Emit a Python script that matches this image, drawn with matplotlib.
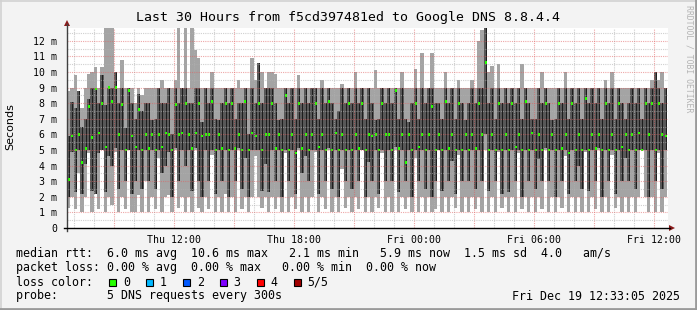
#!/usr/bin/env python

import matplotlib
matplotlib.use('Agg')

import matplotlib.pyplot as plt
from   matplotlib.patches import Rectangle, Polygon
from   matplotlib.lines   import Line2D
import numpy             as np

W, H = 697, 310

# ------------------------------------------------------------------------------
# one sample every 10 minutes, 30 hours, values in ms
# (hours since Thu 00:00 of the first sample start)
t_start = 6.65
step    = 1.0 / 6

rtt_min = [1.3, 2.0, 1.2, 3.5, 1.0, 2.0, 4.8, 1.0, 2.3, 1.2, 5.0, 1.0,
           2.0, 1.5, 4.9, 1.0, 2.0, 1.2, 5.0, 1.0, 1.0, 2.1, 1.0, 3.0,
           1.0, 2.0, 1.2, 4.5, 1.0, 2.0, 2.1, 1.0, 5.0, 1.3, 2.0, 1.0,
           2.0, 1.0, 5.0, 1.3, 1.0, 2.0, 1.2, 4.7, 1.0, 2.0, 1.0, 2.2,
           1.0, 2.0, 1.0, 5.0, 1.2, 2.0, 1.0, 2.0, 4.6, 2.0, 1.3, 2.0,
           1.0, 2.0, 1.2, 2.0, 1.0, 4.8, 1.0, 2.0, 1.2, 5.0, 1.0, 2.0,
           1.0, 2.0, 4.9, 1.0, 2.0, 1.2, 5.0, 1.0, 2.0, 1.0, 3.8, 1.3,
           2.0, 1.0, 2.0, 1.2, 5.0, 1.0, 2.0, 1.0, 2.0, 1.3, 4.8, 1.0,
           2.0, 1.0, 5.0, 1.0, 2.0, 1.2, 2.0, 1.0, 4.5, 1.0, 2.0, 1.0,
           2.0, 1.0, 1.2, 5.0, 1.0, 2.0, 1.0, 2.0, 1.3, 4.7, 1.0, 2.0,
           1.0, 2.0, 1.2, 2.0, 1.0, 5.0, 1.0, 2.0, 1.0, 4.9, 1.3, 2.0,
           1.0, 2.0, 1.0, 4.8, 1.2, 2.0, 1.0, 2.0, 1.0, 2.0, 1.2, 5.0,
           1.0, 2.0, 1.0, 2.0, 1.3, 4.6, 1.0, 2.0, 1.0, 2.0, 1.0, 4.9,
           1.0, 2.0, 1.2, 5.0, 1.0, 2.0, 1.0, 4.7, 1.3, 2.0, 1.0, 2.0,
           1.0, 2.0, 1.0, 2.0, 5.0, 2.0, 1.0, 2.0, 1.0, 4.8, 1.0, 2.0]

rtt_q1  = [2.0, 4.9, 2.3, 5.0, 2.2, 4.1, 5.0, 2.4, 2.2, 4.8, 5.0, 2.3,
           4.6, 4.0, 5.1, 2.5, 5.0, 3.0, 5.0, 2.2, 3.0, 5.0, 2.5, 5.0,
           3.0, 5.0, 2.5, 5.0, 3.5, 4.0, 4.9, 2.0, 5.1, 3.0, 5.0, 4.0,
           5.0, 2.4, 5.1, 3.0, 2.0, 5.0, 3.0, 5.0, 2.2, 5.0, 3.0, 5.0,
           2.0, 5.0, 3.0, 5.1, 2.5, 4.5, 2.0, 5.0, 5.0, 5.0, 2.4, 4.1,
           2.3, 5.0, 3.0, 5.0, 2.0, 5.0, 3.0, 5.0, 2.2, 5.1, 3.5, 4.6,
           3.0, 5.0, 5.0, 2.2, 5.0, 3.0, 5.1, 2.5, 5.0, 2.0, 5.0, 3.0,
           5.0, 2.5, 5.0, 3.0, 5.0, 2.0, 4.2, 3.0, 5.0, 2.2, 5.0, 3.0,
           5.0, 3.0, 5.2, 2.3, 5.0, 3.0, 5.0, 2.0, 5.0, 3.0, 5.0, 2.5,
           5.0, 2.0, 3.0, 5.0, 2.4, 5.0, 3.0, 4.3, 2.2, 5.0, 3.0, 5.0,
           3.0, 5.0, 2.5, 5.0, 3.0, 6.0, 2.4, 5.0, 3.0, 5.0, 2.2, 5.0,
           2.3, 5.0, 3.0, 5.0, 2.0, 5.0, 3.0, 5.0, 2.5, 4.4, 3.0, 5.1,
           3.0, 5.0, 2.0, 5.0, 3.0, 5.0, 2.2, 5.0, 3.0, 4.0, 2.5, 5.0,
           2.4, 5.0, 3.0, 5.1, 2.0, 5.0, 3.0, 5.0, 2.2, 5.0, 3.0, 4.5,
           3.0, 5.0, 2.5, 5.0, 5.0, 5.0, 2.0, 5.0, 3.0, 5.0, 2.5, 5.0]

rtt_med = [3.1, 5.9, 5.0, 6.0, 4.2, 5.1, 7.8, 5.8, 8.9, 6.1, 8.0, 5.2,
           9.0, 8.1, 9.0, 6.0, 7.9, 5.0, 8.8, 5.9, 5.2, 7.6, 5.0, 6.0,
           5.1, 6.0, 5.0, 6.0, 5.2, 6.1, 6.0, 5.0, 7.9, 6.0, 6.1, 8.0,
           6.0, 5.1, 6.1, 8.0, 5.9, 6.0, 6.0, 8.1, 5.0, 6.0, 5.1, 8.0,
           5.0, 8.0, 5.1, 6.0, 5.0, 8.1, 5.0, 6.1, 5.9, 8.0, 5.0, 6.0,
           6.0, 8.0, 5.1, 6.0, 5.0, 8.5, 5.0, 6.0, 4.8, 8.0, 5.1, 6.0,
           5.0, 6.0, 8.0, 5.2, 6.0, 5.0, 8.1, 5.0, 6.1, 5.0, 6.0, 5.0,
           8.0, 5.0, 6.0, 5.1, 8.0, 5.0, 6.0, 5.9, 6.0, 5.0, 8.0, 6.0,
           6.0, 5.0, 8.8, 5.1, 6.0, 4.2, 6.0, 5.0, 8.0, 5.2, 6.0, 5.0,
           6.0, 7.8, 5.0, 6.0, 5.0, 8.1, 5.1, 6.0, 5.0, 8.0, 5.0, 6.0,
           5.0, 6.0, 5.1, 8.0, 6.0, 10.6, 5.0, 6.0, 5.0, 8.0, 5.0, 6.0,
           5.0, 8.0, 5.2, 6.0, 5.0, 8.1, 5.0, 6.1, 5.0, 6.0, 5.0, 8.0,
           5.0, 6.0, 5.0, 8.0, 5.1, 6.0, 4.8, 8.0, 5.0, 6.0, 5.0, 8.3,
           5.0, 6.0, 5.1, 6.0, 5.0, 8.0, 5.0, 6.0, 5.0, 8.0, 5.2, 6.0,
           5.0, 6.0, 5.0, 6.1, 5.0, 8.0, 6.0, 8.0, 5.0, 8.0, 6.0, 5.9]

rtt_q3  = [5.9, 8.1, 7.7, 8.8, 6.5, 7.0, 8.3, 9.0, 9.0, 8.0, 9.8, 7.9,
           9.0, 9.0, 10.0, 8.0, 9.0, 6.4, 9.0, 8.0, 7.0, 8.6, 7.5, 8.0,
           8.0, 6.9, 7.0, 9.0, 8.0, 8.0, 9.0, 6.0, 9.0, 8.0, 9.0, 9.0,
           8.0, 8.0, 9.0, 9.0, 6.8, 9.0, 8.0, 9.0, 7.0, 6.9, 8.0, 9.0,
           8.0, 9.0, 7.0, 8.0, 8.0, 9.0, 6.0, 9.0, 8.0, 10.6, 8.0, 9.0,
           9.0, 9.0, 8.0, 6.9, 7.0, 9.0, 8.0, 9.0, 7.0, 9.0, 8.0, 9.0,
           8.0, 9.0, 9.0, 7.0, 9.0, 8.0, 9.0, 8.0, 7.0, 7.5, 9.0, 8.0,
           9.0, 8.0, 9.0, 8.0, 9.0, 7.0, 9.0, 8.0, 6.9, 7.0, 9.0, 8.0,
           9.0, 8.0, 9.0, 7.0, 9.0, 7.0, 6.8, 8.0, 9.0, 7.0, 9.0, 8.0,
           9.0, 9.0, 8.0, 8.0, 7.0, 9.0, 8.0, 9.0, 7.0, 9.0, 8.0, 6.9,
           8.0, 9.0, 8.0, 9.0, 9.0, 12.8, 8.0, 9.0, 7.0, 9.0, 8.0, 9.0,
           8.0, 9.0, 8.0, 9.0, 7.0, 9.0, 8.0, 7.0, 7.0, 9.0, 8.0, 9.0,
           8.0, 6.9, 7.0, 9.0, 8.0, 9.0, 7.0, 9.0, 8.0, 9.0, 7.0, 9.0,
           8.0, 9.0, 8.0, 9.0, 7.0, 9.0, 8.0, 9.0, 7.0, 9.0, 8.0, 7.0,
           8.0, 9.0, 8.0, 9.0, 7.0, 9.0, 8.0, 9.0, 10.0, 9.0, 8.0, 9.0]

rtt_max = [8.8, 9.0, 9.8, 8.8, 7.7, 9.0, 9.9, 10.0, 10.3, 9.0, 10.3, 12.8,
           12.8, 12.8, 10.0, 9.0, 10.8, 9.0, 9.0, 9.0, 8.0, 9.0, 8.5, 9.0,
           9.0, 9.0, 9.0, 9.0, 9.5, 9.0, 9.0, 9.0, 9.5, 12.8, 9.0, 12.8,
           9.0, 12.8, 11.4, 10.9, 9.0, 9.0, 9.0, 10.0, 9.0, 9.0, 9.0, 9.0,
           9.0, 9.0, 9.0, 9.5, 9.0, 9.0, 9.0, 10.9, 9.5, 10.6, 10.0, 9.0,
           10.0, 10.0, 9.9, 9.0, 9.0, 9.0, 9.0, 9.0, 9.0, 9.8, 9.0, 9.0,
           9.0, 9.0, 9.0, 9.0, 9.5, 9.0, 9.0, 9.0, 9.0, 9.0, 9.2, 9.0,
           9.0, 9.0, 10.0, 9.0, 9.0, 9.0, 9.0, 9.0, 10.1, 9.0, 9.0, 9.0,
           9.0, 9.0, 9.0, 9.0, 10.0, 9.0, 9.0, 9.0, 10.2, 9.0, 11.2, 9.0,
           9.0, 11.2, 9.0, 9.0, 9.0, 10.0, 9.0, 9.0, 9.0, 9.5, 9.0, 9.0,
           9.0, 9.5, 9.0, 12.0, 12.7, 12.8, 10.0, 10.4, 9.0, 10.5, 9.0, 9.0,
           9.0, 9.0, 9.0, 9.0, 10.5, 9.0, 9.0, 9.0, 9.0, 9.0, 10.0, 9.0,
           9.0, 9.0, 9.0, 9.0, 9.0, 10.0, 9.0, 9.0, 9.0, 9.0, 9.0, 9.0,
           9.0, 9.0, 9.0, 9.0, 9.0, 9.5, 9.0, 10.0, 9.0, 9.0, 9.0, 9.0,
           9.0, 9.0, 9.0, 9.0, 9.0, 9.0, 9.0, 9.5, 10.0, 9.5, 10.0, 9.0]

x_ticks  = [12, 18, 24, 30, 36]
x_labels = ['Thu 12:00', 'Thu 18:00', 'Fri 00:00', 'Fri 06:00', 'Fri 12:00']
y_ticks  = list(range(13))
y_labels = ['0'] + ['%d m' % v for v in range(1, 13)]

loss_names  = ['0', '1', '2', '3', '4', '5/5']
loss_colors = ['#26ff00', '#00b8ff', '#0059ff', '#7e00ff', '#ff0000', '#a10000']

title  = 'Last 30 Hours from f5cd397481ed to Google DNS 8.8.4.4'
legend = ['median rtt:  6.0 ms avg  10.6 ms max   2.1 ms min   5.9 ms now  1.5 ms sd  4.0   am/s',
          'packet loss: 0.00 % avg  0.00 % max   0.00 % min  0.00 % now',
          'loss color:',
          'probe:       5 DNS requests every 300s']
stamp  = 'Fri Dec 19 12:33:05 2025'

MONO = 'DejaVu Sans Mono'


# ------------------------------------------------------------------------------
#
def fx(x): return x / W
def fy(y): return 1 - y / H


def main():

    ms  = 1e-3
    lo  = np.array(rtt_min) * ms
    q1  = np.array(rtt_q1)  * ms
    med = np.array(rtt_med) * ms
    q3  = np.array(rtt_q3)  * ms
    hi  = np.array(rtt_max) * ms
    t   = t_start + step * np.arange(len(lo))

    fig = plt.figure(figsize=(W / 100, H / 100), dpi=100)
    fig.patch.set_facecolor('#f3f3f3')

    ax = fig.add_axes([fx(67), fy(228), fx(668) - fx(67), fy(28) - fy(228)])
    ax.set_facecolor('white')
    for s in ax.spines.values():
        s.set_visible(False)

    # smoke: outer pair light, inner pair dark, narrow black core
    ax.bar(t, hi - lo, bottom=lo, width=step, align='edge',
           color='#a4a4a4', lw=0, zorder=2)
    ax.bar(t, q3 - q1, bottom=q1, width=step, align='edge',
           color='#585858', lw=0, zorder=3)
    ax.bar(t + step * 0.6, q3 - q1, bottom=q1, width=step * 0.3, align='edge',
           color='#1e1e1e', lw=0, zorder=4)
    # median ticks, coloured by loss (all 0 here)
    ax.bar(t + step * 0.25, 0.17 * ms, bottom=med - 0.085 * ms, width=step * 0.6,
           align='edge', color=loss_colors[0], lw=0, zorder=5)

    ax.set_xlim(t_start, t_start + 30.05)
    ax.set_ylim(0, 12.82 * ms)

    # grid on top, rrdtool style
    for h in np.arange(7, 37):
        major = (h % 3 == 0)
        ax.axvline(h, color='#e06060' if major else '#b0b0b0',
                   alpha=0.55 if major else 0.6, lw=0.8,
                   ls=(0, (1, 1)), zorder=6)
    for v in np.arange(0.5, 12.8, 0.5):
        major = (v == int(v))
        ax.axhline(v * ms, color='#e06060' if major else '#b0b0b0',
                   alpha=0.55 if major else 0.6, lw=0.8,
                   ls=(0, (1, 1)), zorder=6)

    ax.set_xticks(x_ticks)
    ax.set_xticklabels(x_labels, family=MONO, fontsize=7.1)
    ax.set_yticks([v * ms for v in y_ticks])
    ax.set_yticklabels(y_labels, family=MONO, fontsize=7.1)
    ax.tick_params(length=0, pad=5)
    ax.tick_params(axis='y', pad=7)

    # axes with arrows
    fig.add_artist(Line2D([fx(67), fx(67)], [fy(231), fy(24)],
                          color='#404040', lw=1))
    fig.add_artist(Line2D([fx(64), fx(670)], [fy(228), fy(228)],
                          color='black', lw=1))
    fig.add_artist(Polygon([(fx(64), fy(26)), (fx(70), fy(26)), (fx(67), fy(20))],
                           closed=True, color='#8b1a1a', lw=0))
    fig.add_artist(Polygon([(fx(669), fy(225)), (fx(669), fy(231)), (fx(675), fy(228))],
                           closed=True, color='#8b1a1a', lw=0))

    # texts
    fig.text(fx(348), fy(18), title, family=MONO, fontsize=9.5,
             ha='center', va='center')
    fig.text(fx(10), fy(127), 'Seconds', family='DejaVu Sans', fontsize=8,
             rotation=90, ha='center', va='center')
    fig.text(fx(689), fy(59), 'RRDTOOL / TOBI OETIKER', family=MONO,
             fontsize=5.9, color='#b4b4b4', rotation=270,
             ha='center', va='center')

    rows = [254, 268, 282, 296]
    for line, y in zip(legend, rows):
        fig.text(fx(16), fy(y), line, family=MONO, fontsize=8.4,
                 ha='left', va='center')
    fig.text(fx(680), fy(296), stamp, family=MONO, fontsize=8.4,
             ha='right', va='center')

    for i, (name, col) in enumerate(zip(loss_names, loss_colors)):
        x0 = 109 + i * 36.9
        fig.add_artist(Rectangle((fx(x0), fy(285.5)), fx(7), 7 / H,
                                 facecolor=col, edgecolor='black', lw=0.8))
        fig.text(fx(x0 + 14), fy(282), name, family=MONO, fontsize=8.4,
                 ha='left', va='center')

    # 3d frame
    fig.add_artist(Line2D([0, 1], [fy(0.5), fy(0.5)], color='#d2d2d2', lw=1.2))
    fig.add_artist(Line2D([fx(0.5), fx(0.5)], [0, 1], color='#d2d2d2', lw=1.2))
    fig.add_artist(Line2D([0, 1], [fy(309), fy(309)], color='#9a9a9a', lw=2))
    fig.add_artist(Line2D([fx(696), fx(696)], [0, 1], color='#9a9a9a', lw=2))

    plt.savefig('out.png', dpi=100, facecolor=fig.get_facecolor())


# ------------------------------------------------------------------------------
#
if __name__ == '__main__':

    main()

# ------------------------------------------------------------------------------
